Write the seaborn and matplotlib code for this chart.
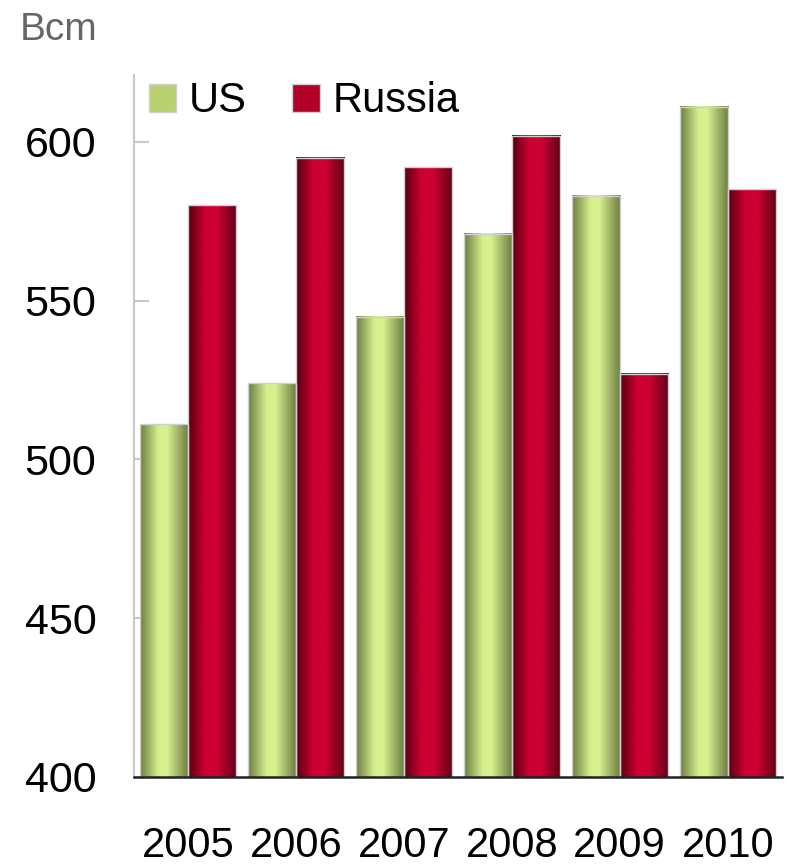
import numpy as np
import pandas as pd
import matplotlib
matplotlib.use("Agg")
import matplotlib.pyplot as plt
import seaborn as sns
from matplotlib.colors import LinearSegmentedColormap
from matplotlib.patches import Patch

years = ["2005", "2006", "2007", "2008", "2009", "2010"]
us = [511, 524, 545, 571, 583, 611]
russia = [580, 595, 592, 602, 527, 585]
series = ["US", "Russia"]

df = pd.DataFrame({
    "year": years * 2,
    "value": us + russia,
    "country": ["US"] * len(years) + ["Russia"] * len(years),
})

sns.set_style("white")
plt.rcParams["font.family"] = ["Liberation Sans", "DejaVu Sans"]
plt.rcParams["text.color"] = "black"
plt.rcParams["xtick.labelcolor"] = "black"
plt.rcParams["ytick.labelcolor"] = "black"

fig = plt.figure(figsize=(7.92, 8.64), dpi=100)
ax = fig.add_axes([0.169, 0.1007, 0.818, 0.8123])

YMIN, YMAX = 400, 621
mid_colors = {"US": "#d6f08c", "Russia": "#cc0033"}
sns.barplot(data=df, x="year", y="value", hue="country", hue_order=series,
            palette=mid_colors, width=0.89, ax=ax, legend=False,
            edgecolor="#d0d0d0", linewidth=1.0, saturation=1)

cmaps = {
    "US": LinearSegmentedColormap.from_list("us", [(0, "#6c7c42"), (0.38, "#d6f08c"), (0.55, "#d8f290"), (1, "#6a7a40")]),
    "Russia": LinearSegmentedColormap.from_list("ru", [(0, "#55000f"), (0.35, "#cc0033"), (0.6, "#cc0033"), (1, "#5e0014")]),
}

grad = np.linspace(0, 1, 256).reshape(1, -1)
n = len(years)
for i, p in enumerate(ax.patches[:2 * n]):
    name = series[i // n]
    x0, w = p.get_x(), p.get_width()
    top = p.get_y() + p.get_height()
    ax.imshow(grad, cmap=cmaps[name], aspect="auto",
              extent=[x0, x0 + w, YMIN, top], zorder=p.get_zorder() + 0.1,
              interpolation="bilinear")
    p.set_facecolor("none")
    p.set_zorder(p.get_zorder() + 0.2)
ax.set_xlim(-0.5, 5.5)
ax.set_ylim(YMIN, YMAX)

ax.set_yticks([400, 450, 500, 550, 600])
ax.tick_params(axis="y", direction="in", length=11, width=1.5, color="#c8c8c8",
               labelsize=31, pad=27, left=True, labelcolor="black")
ax.tick_params(axis="x", length=0, labelsize=30, pad=35, labelcolor="black")
ax.set_xlabel("")
ax.set_ylabel("")

for s in ["top", "right"]:
    ax.spines[s].set_visible(False)
ax.spines["left"].set_color("#c8c8c8")
ax.spines["left"].set_linewidth(1.5)
ax.spines["bottom"].set_color("#222222")
ax.spines["bottom"].set_linewidth(1.8)
ax.spines["bottom"].set_zorder(10)

handles = [Patch(facecolor="#b8d070", edgecolor="#d0d0d0", label="US"),
           Patch(facecolor="#b0002a", edgecolor="#d0d0d0", label="Russia")]
leg = ax.legend(handles=handles, loc="upper left", bbox_to_anchor=(-0.003, 1.015),
                ncol=2, frameon=False, fontsize=30, handlelength=0.67,
                handleheight=0.67, handletextpad=0.3, columnspacing=1.08,
                borderaxespad=0, labelcolor="black")

fig.text(0.025, 0.965, "Bcm", fontsize=28, color="#666666", va="center", ha="left")

fig.savefig("out.png", dpi=100)
